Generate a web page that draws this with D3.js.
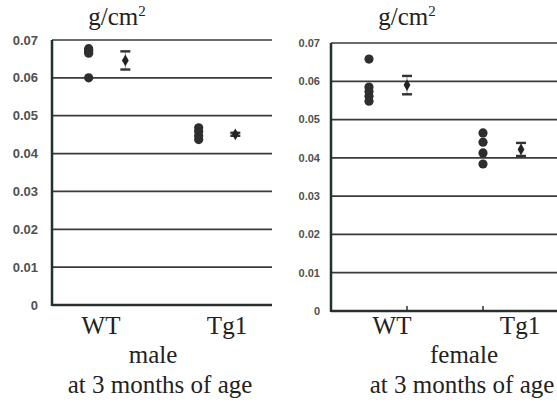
<!DOCTYPE html>
<html><head><meta charset="utf-8">
<script src="https://cdn.jsdelivr.net/npm/d3@7"></script>
<style>body{margin:0;background:#fff}svg{display:block}
.serif{font-family:"Liberation Serif","Times New Roman","DejaVu Serif",serif}</style>
</head><body>
<script>
// ---- data ----
const categories = ["WT", "Tg1"];
const yTicks = [0, 0.01, 0.02, 0.03, 0.04, 0.05, 0.06, 0.07];
const yTickLabels = ["0", "0.01", "0.02", "0.03", "0.04", "0.05", "0.06", "0.07"];
const unitLabel = "g/cm";
const maleWT = [0.0677, 0.0673, 0.0669, 0.0665, 0.0600];
const maleTg1 = [0.0468, 0.0459, 0.0447, 0.0437];
const maleMean = [0.0646, 0.0451];
const maleErr = [0.0024, 0.0004];
const femaleWT = [0.0658, 0.0585, 0.0573, 0.0561, 0.0548];
const femaleTg1 = [0.0465, 0.0441, 0.0413, 0.0384];
const femaleMean = [0.0590, 0.0422];
const femaleErr = [0.0024, 0.0017];
const panelTitles = [["male", "at 3 months of age"], ["female", "at 3 months of age"]];

const W = 557, H = 403;
const svg = d3.select("body").append("svg").attr("width", W).attr("height", H);

const panels = [
  {points: [maleWT, maleTg1], mean: maleMean, err: maleErr, title: panelTitles[0],
   x0: 52, x1: 272, yTop: 40, yBot: 305, tickSize: 13, tickRight: 38, showTicks: false,
   unitX: 117, catX: [101, 227], titleX: [153, 160]},
  {points: [femaleWT, femaleTg1], mean: femaleMean, err: femaleErr, title: panelTitles[1],
   x0: 331, x1: 559, yTop: 43, yBot: 311, tickSize: 11, tickRight: 320, showTicks: true,
   unitX: 407, catX: [392, 520], titleX: [464, 462]}
];

panels.forEach(p => {
  const g = svg.append("g");
  const x = d3.scaleLinear().domain([0, 6]).range([p.x0, p.x1]);
  const y = d3.scaleLinear().domain([0, 0.07]).range([p.yBot, p.yTop]);

  g.selectAll("line.grid").data(yTicks.slice(1)).join("line")
    .attr("x1", p.x0).attr("x2", p.x1)
    .attr("y1", d => y(d)).attr("y2", d => y(d))
    .attr("stroke", "#3a3a3a").attr("stroke-width", 1.7);

  g.append("line").attr("x1", p.x0).attr("x2", p.x1).attr("y1", y(0)).attr("y2", y(0))
    .attr("stroke", "#2a2f2c").attr("stroke-width", 2.5);
  g.append("line").attr("x1", p.x0).attr("x2", p.x0).attr("y1", y(0.07)).attr("y2", y(0) + 1)
    .attr("stroke", "#1f3328").attr("stroke-width", 2.5);

  if (p.showTicks) {
    g.selectAll("line.xt").data([2, 4]).join("line")
      .attr("x1", d => x(d)).attr("x2", d => x(d))
      .attr("y1", y(0)).attr("y2", y(0) - 5)
      .attr("stroke", "#2a2f2c").attr("stroke-width", 1.5);
  }

  g.selectAll("text.yt").data(yTicks).join("text")
    .attr("x", p.tickRight).attr("y", d => y(d))
    .attr("dy", "0.35em").attr("text-anchor", "end")
    .style("font-family", "'Liberation Sans', Arial, sans-serif")
    .attr("font-weight", "bold").attr("font-size", p.tickSize).attr("fill", "#505050")
    .text((d, i) => yTickLabels[i]);

  const u = g.append("text").attr("class", "serif").attr("x", p.unitX).attr("y", 25)
    .attr("text-anchor", "middle").attr("font-size", 25).attr("fill", "#222");
  u.append("tspan").text(unitLabel);
  u.append("tspan").attr("font-size", 15).attr("dy", -9).text("2");

  p.points.forEach((arr, ci) => {
    g.selectAll("circle.c" + ci).data(arr).join("circle")
      .attr("cx", x(ci * 3 + 1)).attr("cy", d => y(d)).attr("r", 4.6)
      .attr("fill", "#2e2e2e");
  });

  p.mean.forEach((m, ci) => {
    const cx = x(ci * 3 + 2);
    const e = p.err[ci];
    g.append("line").attr("x1", cx).attr("x2", cx).attr("y1", y(m + e)).attr("y2", y(m - e))
      .attr("stroke", "#999").attr("stroke-width", 1);
    [m + e, m - e].forEach(v => {
      g.append("line").attr("x1", cx - 5).attr("x2", cx + 5).attr("y1", y(v)).attr("y2", y(v))
        .attr("stroke", "#333").attr("stroke-width", 2.4);
    });
    g.append("path").attr("d", d3.symbol().type(d3.symbolDiamond).size(40)())
      .attr("transform", `translate(${cx},${y(m)})`).attr("fill", "#222");
  });

  categories.forEach((c, i) => {
    g.append("text").attr("class", "serif").attr("x", p.catX[i]).attr("y", 334)
      .attr("text-anchor", "middle").attr("font-size", 25).attr("fill", "#222").text(c);
  });
  g.append("text").attr("class", "serif").attr("x", p.titleX[0]).attr("y", 363)
    .attr("text-anchor", "middle").attr("font-size", 25).attr("fill", "#222").text(p.title[0]);
  g.append("text").attr("class", "serif").attr("x", p.titleX[1]).attr("y", 393)
    .attr("text-anchor", "middle").attr("font-size", 25).attr("fill", "#222").text(p.title[1]);
});
</script>
</body></html>
